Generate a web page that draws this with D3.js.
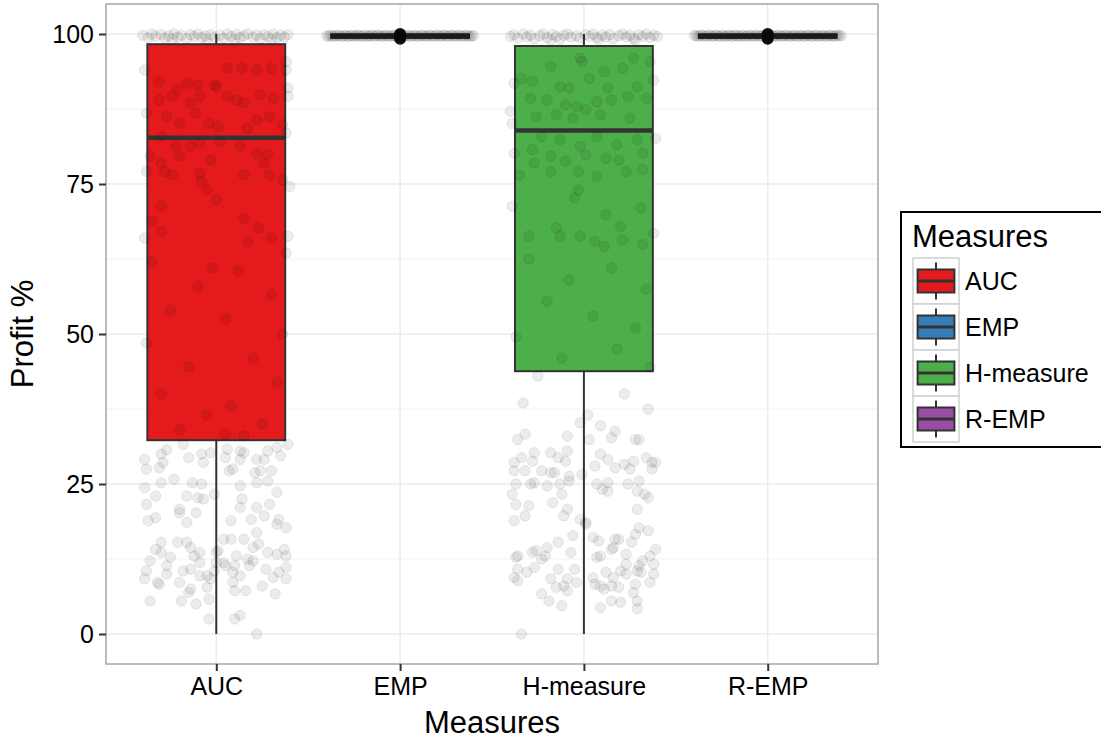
<!DOCTYPE html>
<html>
<head>
<meta charset="utf-8">
<script src="https://cdn.jsdelivr.net/npm/d3@7"></script>
<style>
  body { margin: 0; background: #fff; }
  text { font-family: "Liberation Sans", Arial, sans-serif; }
</style>
</head>
<body>
<div id="chart"></div>
<script>
// categories and box statistics (Profit %)
const categories = ["AUC", "EMP", "H-measure", "R-EMP"];
const boxColors = ["#E41A1C", "#377EB8", "#4DAF4A", "#984EA3"];
const whiskerLow = [0, 99.3, 0, 99.3];
const q1 = [32.3, 99.35, 43.8, 99.35];
const medians = [82.7, 99.65, 83.9, 99.65];
const q3 = [98.3, 99.95, 98.0, 99.95];
const whiskerHigh = [100, 100, 100, 100];
const outliers = [[], [99.2, 99.6, 100], [], [99.2, 99.6, 100]];
const yTicks = [0, 25, 50, 75, 100];

// jittered observations: [offset from category centre, value]
const aucPoints = [
  [-0.39,29.1],[-0.30,30.0],[-0.27,30.7],[-0.38,27.5],[-0.31,27.7],[-0.29,28.6],[-0.39,24.4],[-0.30,25.2],
  [-0.23,25.8],[-0.33,23.0],[-0.38,21.6],[-0.20,20.8],[-0.20,20.2],[-0.33,19.4],[-0.37,18.9],[-0.16,18.6],
  [-0.11,20.2],[-0.16,23.0],[-0.10,22.7],[-0.07,22.5],[-0.13,25.2],[-0.08,25.0],[-0.15,29.4],[-0.08,30.0],
  [-0.07,28.6],[0.05,33.3],[0.15,33.0],[0.06,30.8],[0.13,30.5],[0.15,30.2],[0.05,29.4],[0.13,29.1],
  [0.22,29.1],[0.26,29.1],[0.28,30.5],[0.33,31.1],[0.35,29.7],[0.39,31.6],[0.07,27.2],[0.09,27.5],
  [0.21,26.9],[0.24,27.2],[0.30,27.2],[0.22,25.2],[0.28,25.5],[0.13,24.7],[0.33,23.6],[0.14,22.5],
  [0.13,21.1],[0.22,21.1],[0.29,21.6],[0.26,19.7],[0.34,19.1],[0.38,17.7],[0.33,18.3],[0.19,19.1],
  [0.08,18.9],[-0.01,23.3],[0.22,16.9],[0.15,15.8],[0.20,14.4],[0.23,15.0],[0.28,13.6],[0.33,13.3],
  [0.37,14.1],[0.38,13.0],[0.38,11.1],[0.34,10.3],[0.38,9.2],[0.31,9.4],[0.27,10.8],[0.25,8.0],
  [0.32,6.7],[0.17,12.5],[0.18,11.4],[0.20,12.2],[0.11,13.0],[0.10,11.4],[0.09,10.3],[0.13,9.7],
  [0.09,8.6],[0.10,7.2],[0.16,7.2],[0.08,15.8],[0.04,15.8],[0.01,13.9],[0.04,11.9],[0.05,11.4],
  [-0.01,10.5],[-0.03,9.2],[-0.05,7.8],[-0.04,5.8],[-0.11,5.0],[-0.19,5.5],[-0.36,5.5],[-0.39,9.2],
  [-0.38,10.5],[-0.32,8.6],[-0.31,8.3],[-0.27,10.0],[-0.27,11.4],[-0.25,12.8],[-0.30,13.6],[-0.33,14.1],
  [-0.30,15.3],[-0.36,12.2],[-0.21,15.3],[-0.16,15.3],[-0.14,14.4],[-0.12,13.0],[-0.09,11.9],[-0.14,10.8],
  [-0.18,10.5],[-0.20,8.6],[-0.14,7.5],[-0.15,6.9],[-0.09,9.7],[-0.05,9.7],[-0.04,2.5],[0.10,2.5],
  [0.13,3.1],[0.22,0.0],[0.00,13.6],[0.00,11.9],[-0.09,13.6],[-0.18,31.6],[-0.03,30.2],
  // inside the box
  [-0.31,92.1],[-0.21,90.7],[-0.16,91.8],[-0.10,91.5],[-0.01,91.5],[0.00,91.2],[0.06,94.3],[0.14,94.3],
  [0.22,94.0],[0.30,94.3],[0.38,94.0],[0.38,95.4],[-0.39,94.0],[-0.31,89.0],[-0.24,89.6],[-0.14,88.5],
  [-0.09,89.6],[0.06,89.6],[0.11,89.0],[0.15,88.5],[0.24,89.9],[0.31,89.3],[0.39,89.6],[0.39,91.0],
  [-0.38,86.8],[-0.27,86.2],[-0.20,85.1],[-0.11,86.8],[-0.04,85.1],[0.01,84.6],[0.17,84.3],[0.22,85.7],
  [0.29,86.2],[0.36,84.9],[0.38,83.5],[-0.30,82.9],[-0.22,81.3],[-0.14,81.3],[-0.09,81.8],[0.02,82.1],
  [0.13,81.3],[0.22,80.1],[0.28,79.9],[-0.36,79.6],[-0.30,78.5],[-0.20,79.6],[-0.03,79.0],[0.26,78.5],
  [-0.38,77.1],[-0.28,77.1],[-0.24,76.5],[-0.09,76.8],[-0.08,75.4],[0.00,72.4],[0.15,76.5],[0.29,76.5],
  [0.36,75.7],[0.40,74.6],[-0.05,74.0],[-0.30,71.3],[-0.35,68.8],[-0.30,67.1],[0.15,69.3],[0.23,67.7],
  [-0.39,66.0],[0.17,65.4],[0.39,66.3],[0.30,66.0],
  [-0.35,62.0],[0.12,60.5],[-0.10,58.0],[0.30,56.5],[-0.25,54.0],[0.05,52.5],[0.36,50.0],[-0.38,48.5],
  [0.20,46.0],[-0.15,44.5],[0.33,42.0],[-0.30,40.0],[0.08,38.0],[-0.05,36.5],[0.25,35.0],[-0.20,34.0],
  [0.38,63.5],[-0.02,61.0],
  // band at the top
  [-0.40,99.8],[-0.37,99.4],[-0.35,100],[-0.33,99.6],[-0.30,99.9],[-0.28,99.3],[-0.26,99.7],[-0.23,100],
  [-0.21,99.5],[-0.19,99.8],[-0.16,99.2],[-0.14,99.9],[-0.12,99.6],[-0.10,100],[-0.08,99.4],[-0.06,99.7],
  [-0.03,99.9],[-0.01,99.5],[0.02,99.8],[0.04,99.3],[0.06,100],[0.08,99.6],[0.11,99.9],[0.13,99.4],
  [0.15,99.7],[0.17,100],[0.20,99.5],[0.22,99.8],[0.24,99.2],[0.26,99.9],[0.28,99.6],[0.31,100],
  [0.33,99.4],[0.35,99.8],[0.37,99.5],[0.39,99.9],[-0.24,99.1],[0.10,99.0],[0.30,99.1],[-0.05,99.0]
];

const empPoints = [
  [-0.40,99.7],[-0.39,99.6],[-0.38,99.8],[-0.37,99.7],[-0.36,99.6],[-0.35,99.7],[-0.34,99.8],[-0.33,99.7],
  [-0.32,99.6],[-0.31,99.7],[-0.30,99.8],[-0.29,99.7],[-0.28,99.6],[-0.27,99.7],[-0.26,99.8],[-0.25,99.6],
  [-0.24,99.7],[-0.23,99.8],[-0.22,99.7],[-0.21,99.6],[-0.20,99.7],[-0.19,99.8],[-0.18,99.6],[-0.17,99.7],
  [-0.16,99.7],[-0.15,99.8],[-0.14,99.6],[-0.13,99.7],[-0.12,99.8],[-0.11,99.7],[-0.10,99.6],[-0.09,99.7],
  [-0.08,99.8],[-0.07,99.7],[-0.06,99.6],[-0.05,99.7],[-0.04,99.8],[-0.03,99.7],[-0.02,99.6],[-0.01,99.7],
  [0.00,99.8],[0.01,99.7],[0.02,99.6],[0.03,99.7],[0.04,99.8],[0.05,99.7],[0.06,99.6],[0.07,99.7],
  [0.08,99.8],[0.09,99.7],[0.10,99.6],[0.11,99.7],[0.12,99.8],[0.13,99.7],[0.14,99.6],[0.15,99.7],
  [0.16,99.8],[0.17,99.7],[0.18,99.6],[0.19,99.7],[0.20,99.8],[0.21,99.7],[0.22,99.6],[0.23,99.7],
  [0.24,99.8],[0.25,99.7],[0.26,99.6],[0.27,99.7],[0.28,99.8],[0.29,99.7],[0.30,99.6],[0.31,99.7],
  [0.32,99.8],[0.33,99.7],[0.34,99.6],[0.35,99.7],[0.36,99.8],[0.37,99.7],[0.38,99.6],[0.39,99.7],[0.40,99.7]
];

const hPoints = [
  [-0.32,33.3],[-0.36,32.4],[-0.09,33.0],[-0.02,35.2],[0.03,32.4],[0.09,34.7],[0.17,33.8],[0.15,32.7],
  [0.28,32.4],[0.30,32.4],[-0.38,28.6],[-0.34,29.4],[-0.28,28.8],[-0.27,30.2],[-0.18,30.2],[-0.14,29.4],
  [-0.10,28.8],[-0.09,30.5],[-0.38,27.2],[-0.32,27.2],[-0.23,27.2],[-0.18,26.9],[-0.16,26.9],[-0.08,26.3],
  [-0.01,26.6],[0.06,28.0],[0.09,30.0],[0.13,29.1],[0.17,27.7],[0.22,28.3],[0.27,28.8],[0.25,27.5],
  [0.34,29.4],[0.37,28.6],[0.39,28.6],[0.37,27.5],[-0.37,25.0],[-0.29,25.0],[-0.27,25.2],[-0.20,24.7],
  [-0.13,25.0],[-0.08,25.5],[0.07,25.0],[0.13,25.2],[0.10,24.1],[0.13,23.8],[0.24,25.0],[0.30,25.5],
  [0.29,23.8],[0.33,23.3],[0.35,22.7],[-0.39,23.3],[-0.37,21.6],[-0.30,21.4],[-0.32,19.7],[-0.38,18.9],
  [-0.17,21.9],[-0.12,23.3],[-0.11,19.7],[-0.09,20.8],[-0.02,19.1],[0.01,18.3],[0.29,20.8],[-0.06,16.4],
  [-0.14,15.3],[-0.20,14.4],[-0.28,13.6],[-0.26,13.9],[-0.21,13.0],[-0.23,12.5],[-0.37,12.8],[-0.36,13.0],
  [-0.36,10.8],[-0.38,9.4],[-0.36,8.9],[-0.31,10.3],[-0.27,11.1],[-0.18,9.2],[-0.14,10.8],[-0.09,9.2],
  [-0.04,8.6],[-0.05,10.8],[-0.11,8.0],[-0.15,7.8],[-0.09,7.2],[-0.23,6.7],[-0.19,5.5],[-0.12,4.7],
  [-0.07,13.6],[0.05,16.1],[0.08,15.5],[0.17,15.8],[0.19,15.8],[0.16,14.4],[0.15,14.1],[0.23,13.3],
  [0.26,15.3],[0.28,16.6],[0.30,17.7],[0.35,17.2],[0.39,14.1],[0.36,13.0],[0.38,11.6],[0.32,12.2],
  [0.30,11.4],[0.29,10.5],[0.31,10.3],[0.38,10.0],[0.36,8.6],[0.28,8.3],[0.23,10.0],[0.23,11.6],
  [0.20,10.5],[0.16,9.4],[0.19,7.8],[0.15,8.0],[0.12,10.3],[0.09,13.0],[0.07,12.8],[0.05,9.4],
  [0.06,8.3],[0.09,8.0],[0.11,7.5],[0.15,5.5],[0.20,5.3],[0.27,6.9],[0.29,5.5],[0.29,4.2],
  [0.09,4.4],[-0.34,0.0],[0.01,18.6],
  [0.22,40.0],[-0.33,38.5],[0.02,36.5],[0.35,37.5],
  // inside the box
  [-0.34,92.6],[-0.28,92.1],[-0.18,94.6],[-0.13,91.2],[-0.08,91.0],[-0.02,96.0],[-0.01,95.4],[0.03,92.6],
  [0.11,93.7],[0.13,91.0],[0.15,89.0],[0.21,94.3],[0.27,96.0],[0.29,91.2],[0.36,95.4],[0.38,92.3],
  [-0.38,91.8],[-0.29,89.3],[-0.20,89.0],[-0.10,88.2],[-0.04,87.9],[0.07,88.7],[0.24,89.6],[0.34,89.3],
  [-0.40,87.1],[-0.26,86.2],[-0.15,86.5],[-0.06,86.0],[0.01,87.4],[0.09,86.5],[0.25,86.0],[-0.39,85.1],
  [-0.23,82.9],[-0.13,82.4],[-0.02,81.3],[0.07,82.9],[0.18,81.5],[0.29,82.4],[0.39,82.6],[-0.28,80.7],
  [-0.18,79.6],[0.01,79.9],[0.12,79.3],[0.19,79.0],[0.32,80.1],[-0.38,80.1],[-0.27,78.5],[-0.18,77.1],
  [-0.10,78.8],[-0.03,77.1],[0.07,76.3],[0.23,77.1],[0.32,77.4],[-0.35,76.5],[-0.03,74.0],[-0.05,72.7],
  [0.12,69.9],[0.20,67.9],[0.31,71.0],[-0.39,71.3],[-0.30,66.3],[-0.15,67.7],[-0.13,66.3],[-0.02,66.3],
  [0.06,65.4],[0.11,64.6],[0.21,65.7],[0.32,64.9],[0.38,66.8],
  [-0.30,62.5],[0.15,61.0],[-0.08,59.0],[0.34,57.5],[-0.20,55.5],[0.05,53.0],[0.28,51.0],[-0.37,49.5],
  [0.18,47.5],[-0.12,46.0],[0.36,44.5],[-0.25,43.0],
  // band at the top
  [-0.40,99.6],[-0.38,99.9],[-0.36,99.3],[-0.33,100],[-0.31,99.5],[-0.29,99.8],[-0.27,99.2],[-0.24,99.7],
  [-0.22,100],[-0.20,99.4],[-0.17,99.9],[-0.15,99.6],[-0.13,99.1],[-0.11,99.8],[-0.09,100],[-0.07,99.5],
  [-0.04,99.7],[-0.02,99.3],[0.01,99.9],[0.03,99.6],[0.05,100],[0.07,99.4],[0.10,99.8],[0.12,99.5],
  [0.14,99.9],[0.16,99.2],[0.19,99.7],[0.21,100],[0.23,99.5],[0.25,99.8],[0.27,99.3],[0.30,99.9],
  [0.32,99.6],[0.34,100],[0.36,99.4],[0.38,99.8],[0.40,99.6],[-0.18,99.0],[0.08,99.1],[0.28,99.0]
];

const rempPoints = [
  [-0.40,99.7],[-0.39,99.8],[-0.38,99.6],[-0.37,99.7],[-0.36,99.8],[-0.35,99.7],[-0.34,99.6],[-0.33,99.7],
  [-0.32,99.8],[-0.31,99.7],[-0.30,99.6],[-0.29,99.7],[-0.28,99.8],[-0.27,99.7],[-0.26,99.6],[-0.25,99.8],
  [-0.24,99.7],[-0.23,99.6],[-0.22,99.7],[-0.21,99.8],[-0.20,99.7],[-0.19,99.6],[-0.18,99.8],[-0.17,99.7],
  [-0.16,99.7],[-0.15,99.6],[-0.14,99.8],[-0.13,99.7],[-0.12,99.6],[-0.11,99.7],[-0.10,99.8],[-0.09,99.7],
  [-0.08,99.6],[-0.07,99.7],[-0.06,99.8],[-0.05,99.7],[-0.04,99.6],[-0.03,99.7],[-0.02,99.8],[-0.01,99.7],
  [0.00,99.6],[0.01,99.7],[0.02,99.8],[0.03,99.7],[0.04,99.6],[0.05,99.7],[0.06,99.8],[0.07,99.7],
  [0.08,99.6],[0.09,99.7],[0.10,99.8],[0.11,99.7],[0.12,99.6],[0.13,99.7],[0.14,99.8],[0.15,99.7],
  [0.16,99.6],[0.17,99.7],[0.18,99.8],[0.19,99.7],[0.20,99.6],[0.21,99.7],[0.22,99.8],[0.23,99.7],
  [0.24,99.6],[0.25,99.7],[0.26,99.8],[0.27,99.7],[0.28,99.6],[0.29,99.7],[0.30,99.8],[0.31,99.7],
  [0.32,99.6],[0.33,99.7],[0.34,99.8],[0.35,99.7],[0.36,99.6],[0.37,99.7],[0.38,99.8],[0.39,99.7],[0.40,99.7]
];

const pointSets = [aucPoints, empPoints, hPoints, rempPoints];

(function (d3) {
	"use strict";

	const width = 1101, height = 740;
	const panel = { left: 106, right: 878, top: 4, bottom: 664 };

	const svg = d3.select("#chart").append("svg")
		.attr("width", width)
		.attr("height", height);

	const x = d3.scalePoint()
		.domain(categories)
		.range([panel.left, panel.right])
		.padding(0.6);
	const step = x.step();
	const y = d3.scaleLinear()
		.domain([-5, 105])
		.range([panel.bottom, panel.top]);

	/*** grid ***/
	const grid = svg.append("g");
	const minorTicks = d3.range(-12.5, 105, 25).filter(v => y(v) > panel.top && y(v) < panel.bottom);
	grid.selectAll(".minor").data(minorTicks).enter().append("line")
		.attr("x1", panel.left).attr("x2", panel.right)
		.attr("y1", d => y(d)).attr("y2", d => y(d))
		.attr("stroke", "#f2f2f2").attr("stroke-width", 1);
	grid.selectAll(".major").data(yTicks).enter().append("line")
		.attr("x1", panel.left).attr("x2", panel.right)
		.attr("y1", d => y(d)).attr("y2", d => y(d))
		.attr("stroke", "#ebebeb").attr("stroke-width", 1.5);
	grid.selectAll(".vmajor").data(categories).enter().append("line")
		.attr("x1", d => x(d)).attr("x2", d => x(d))
		.attr("y1", panel.top).attr("y2", panel.bottom)
		.attr("stroke", "#ebebeb").attr("stroke-width", 1.5);

	/*** boxes ***/
	const boxW = step * 0.75;
	const boxes = svg.append("g");
	categories.forEach((c, i) => {
		const cx = x(c);
		const g = boxes.append("g");
		g.append("line")
			.attr("x1", cx).attr("x2", cx)
			.attr("y1", y(whiskerHigh[i])).attr("y2", y(q3[i]))
			.attr("stroke", "#333").attr("stroke-width", 2);
		g.append("line")
			.attr("x1", cx).attr("x2", cx)
			.attr("y1", y(q1[i])).attr("y2", y(whiskerLow[i]))
			.attr("stroke", "#333").attr("stroke-width", 2);
		g.append("rect")
			.attr("x", cx - boxW / 2).attr("width", boxW)
			.attr("y", y(q3[i])).attr("height", y(q1[i]) - y(q3[i]))
			.attr("fill", boxColors[i])
			.attr("stroke", "#333").attr("stroke-width", 2);
		g.append("line")
			.attr("x1", cx - boxW / 2).attr("x2", cx + boxW / 2)
			.attr("y1", y(medians[i])).attr("y2", y(medians[i]))
			.attr("stroke", "#333").attr("stroke-width", 4.5);
		g.selectAll(".out").data(outliers[i]).enter().append("circle")
			.attr("cx", cx).attr("cy", d => y(d)).attr("r", 6)
			.attr("fill", "#111");
	});

	/*** jittered points ***/
	const pts = svg.append("g");
	categories.forEach((c, i) => {
		pts.selectAll(".p" + i).data(pointSets[i]).enter().append("circle")
			.attr("cx", d => x(c) + d[0] * step)
			.attr("cy", d => y(d[1]))
			.attr("r", 5.2)
			.attr("fill", "#000").attr("fill-opacity", 0.075)
			.attr("stroke", "#000").attr("stroke-opacity", 0.08).attr("stroke-width", 1);
	});

	/*** panel border ***/
	svg.append("rect")
		.attr("x", panel.left).attr("y", panel.top)
		.attr("width", panel.right - panel.left).attr("height", panel.bottom - panel.top)
		.attr("fill", "none").attr("stroke", "#a6a6a6").attr("stroke-width", 1.5);

	/*** axes ***/
	const yAxis = svg.append("g")
		.attr("transform", "translate(" + panel.left + ",0)")
		.call(d3.axisLeft(y).tickValues(yTicks).tickSize(7).tickPadding(5));
	const xAxis = svg.append("g")
		.attr("transform", "translate(0," + panel.bottom + ")")
		.call(d3.axisBottom(x).tickSize(7).tickPadding(6));
	[yAxis, xAxis].forEach(a => {
		a.select(".domain").remove();
		a.selectAll(".tick line").attr("stroke", "#333").attr("stroke-width", 2);
		a.selectAll(".tick text").attr("fill", "#000").style("font-size", "25px")
			.style("font-family", "'Liberation Sans', Arial, sans-serif");
	});

	svg.append("text")
		.attr("x", (panel.left + panel.right) / 2).attr("y", 733)
		.attr("text-anchor", "middle").style("font-size", "31px")
		.text("Measures");
	svg.append("text")
		.attr("transform", "translate(33," + (panel.top + panel.bottom) / 2 + ") rotate(-90)")
		.attr("text-anchor", "middle").style("font-size", "31px")
		.text("Profit %");

	/*** legend ***/
	const legend = svg.append("g");
	legend.append("rect")
		.attr("x", 901).attr("y", 212).attr("width", 230).attr("height", 235)
		.attr("fill", "#fff").attr("stroke", "#000").attr("stroke-width", 2);
	legend.append("text")
		.attr("x", 912).attr("y", 247).style("font-size", "31px").text("Measures");
	const keySize = 46;
	categories.forEach((c, i) => {
		const kx = 913, ky = 258 + i * keySize;
		const k = legend.append("g");
		k.append("rect")
			.attr("x", kx).attr("y", ky).attr("width", keySize).attr("height", keySize)
			.attr("fill", "#fff").attr("stroke", "#d0d0d0").attr("stroke-width", 1.5);
		k.append("line")
			.attr("x1", kx + keySize / 2).attr("x2", kx + keySize / 2)
			.attr("y1", ky + keySize * 0.1).attr("y2", ky + keySize * 0.9)
			.attr("stroke", "#333").attr("stroke-width", 2);
		k.append("rect")
			.attr("x", kx + keySize * 0.1).attr("width", keySize * 0.8)
			.attr("y", ky + keySize * 0.25).attr("height", keySize * 0.5)
			.attr("fill", boxColors[i]).attr("stroke", "#333").attr("stroke-width", 2);
		k.append("line")
			.attr("x1", kx + keySize * 0.1).attr("x2", kx + keySize * 0.9)
			.attr("y1", ky + keySize / 2).attr("y2", ky + keySize / 2)
			.attr("stroke", "#333").attr("stroke-width", 3);
		k.append("text")
			.attr("x", kx + keySize + 6).attr("y", ky + keySize / 2)
			.attr("dy", "0.36em").style("font-size", "25px")
			.text(c);
	});
})(d3);
</script>
</body>
</html>
